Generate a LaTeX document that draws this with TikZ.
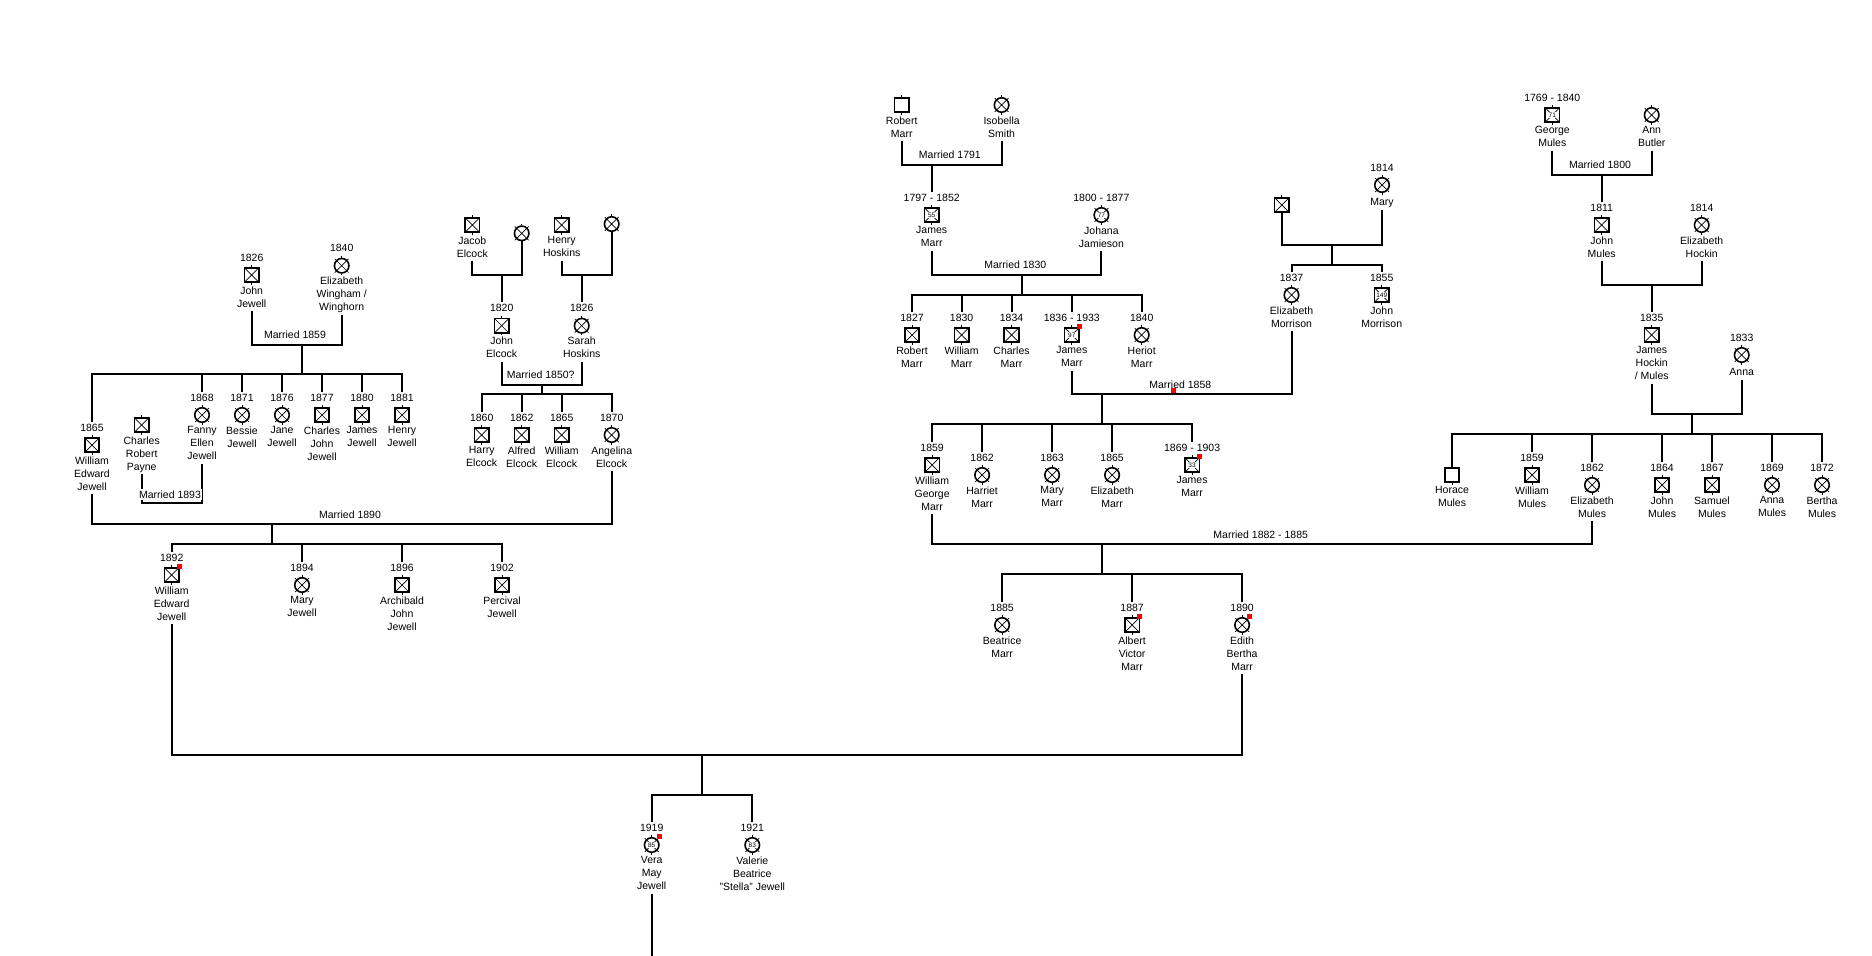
\documentclass[tikz,border=0pt]{standalone}
\usepackage{fontspec}
\setmainfont{Liberation Sans}
\usetikzlibrary{calc}
\begin{document}
\begin{tikzpicture}[x=1pt,y=-1pt,
  every node/.style={inner sep=0pt},
  sym/.style={draw, line width=1.6pt, minimum size=14.5pt, inner sep=0pt, fill=white},
  bx/.style={sym, rectangle},
  bp/.style={sym, rectangle},
  cx/.style={sym, circle},
  yr/.style={font=\fontsize{10.5}{13}\selectfont, anchor=base, yshift=13.95pt, outer ysep=2pt},
  nm/.style={font=\fontsize{10.5}{13}\selectfont, align=center, anchor=north, yshift=-11.35pt,
     execute at begin node=\strut, execute at end node=\strut},
  ml/.style={font=\fontsize{10.5}{13}\selectfont, fill=white, inner xsep=1pt, inner ysep=1.5pt},
  agenum/.style={font=\fontsize{6.5}{7}\selectfont, fill=white, inner sep=0.6pt},
  rdot/.style={fill=red, minimum size=4.5pt, inner sep=0pt},
  conn/.style={line width=2pt},
  xl/.style={line width=0.7pt},
  tk/.style={line width=1pt}]
\useasboundingbox (0,0) rectangle (1872,956);
\def\kbx{bx}\def\kcx{cx}
\newcommand\symdeco[2]{%
  \def\tmpk{#2}%
  \ifx\tmpk\kbx
    \draw[xl] ([shift={(-7.25,-7.25)}]#1s.center) -- ([shift={(7.25,7.25)}]#1s.center)
              ([shift={(-7.25,7.25)}]#1s.center) -- ([shift={(7.25,-7.25)}]#1s.center);
  \fi
  \ifx\tmpk\kcx
    \draw[xl] ([shift={(-6.9,-6.9)}]#1s.center) -- ([shift={(6.9,6.9)}]#1s.center)
              ([shift={(-6.9,6.9)}]#1s.center) -- ([shift={(6.9,-6.9)}]#1s.center);
  \fi
  \draw[tk] (#1s.north) -- ++(0,-1.5);
  \draw[tk] (#1s.south) -- ++(0,1.5);}
\newcommand\psn[6]{%
  \node[#4] (#1s) at (#2,#3) {};
  \symdeco{#1}{#4}
  \node[yr] (#1y) at (#2,#3) {#5};
  \node[nm] (#1) at (#2,#3) {#6};}
\newcommand\psnn[5]{%
  \node[#4] (#1s) at (#2,#3) {};
  \symdeco{#1}{#4}
  \node[nm] (#1) at (#2,#3) {#5};}
\newcommand\symonly[4]{\node[#4] (#1s) at (#2,#3) {};\symdeco{#1}{#4}}
\newcommand\agen[2]{\node[agenum] (#1n) at (#1s.center) {#2};}
\newcommand\rdt[1]{\node[rdot] (#1r) at ([shift={(7.6,-8.7)}]#1s.center) {};}
\newcommand\kid[2]{\draw[conn] (#1y.north) -- (#1y.north |- #2);}

% ---------- Jewell ----------
\psn{jj}{251.7}{275}{bx}{1826}{John\\Jewell}
\psn{ewi}{341.7}{265.7}{cx}{1840}{Elizabeth\\Wingham /\\Winghorn}
\psn{wej}{92}{445}{bx}{1865}{William\\Edward\\Jewell}
\psnn{crp}{141.7}{425}{bx}{Charles\\Robert\\Payne}
\psn{fej}{202}{415}{cx}{1868}{Fanny\\Ellen\\Jewell}
\psn{bj}{242}{415}{cx}{1871}{Bessie\\Jewell}
\psn{jnj}{282}{415}{cx}{1876}{Jane\\Jewell}
\psn{cjj}{322}{415}{bx}{1877}{Charles\\John\\Jewell}
\psn{jmj}{362}{415}{bx}{1880}{James\\Jewell}
\psn{hj}{402}{415}{bx}{1881}{Henry\\Jewell}

% ---------- Elcock / Hoskins ----------
\psnn{jae}{472.3}{225}{bx}{Jacob\\Elcock}
\symonly{ecu}{521.7}{233.3}{cx}
\psnn{hh}{561.7}{225}{bx}{Henry\\Hoskins}
\symonly{hcu}{611.7}{224}{cx}
\psn{je}{501.7}{325.7}{bx}{1820}{John\\Elcock}
\psn{sh}{581.7}{325.7}{cx}{1826}{Sarah\\Hoskins}
\psn{he}{481.7}{435}{bx}{1860}{Harry\\Elcock}
\psn{ae}{521.7}{435}{bx}{1862}{Alfred\\Elcock}
\psn{we}{561.7}{435}{bx}{1865}{William\\Elcock}
\psn{ane}{611.7}{435}{cx}{1870}{Angelina\\Elcock}

\psn{wej2}{171.7}{575}{bx}{1892}{William\\Edward\\Jewell}
\psn{mj}{302}{585}{cx}{1894}{Mary\\Jewell}
\psn{ajj}{402}{585}{bx}{1896}{Archibald\\John\\Jewell}
\psn{pj}{502}{585}{bx}{1902}{Percival\\Jewell}

\psn{vmj}{651.7}{845}{cx}{1919}{Vera\\May\\Jewell}
\psn{vbj}{752.3}{845}{cx}{1921}{Valerie\\Beatrice\\"Stella" Jewell}

% ---------- Marr ----------
\psnn{rm}{901.7}{105}{bp}{Robert\\Marr}
\psnn{is}{1001.6}{105}{cx}{Isobella\\Smith}
\psn{jm1}{931.7}{215}{bx}{1797 - 1852}{James\\Marr}
\psn{jo}{1101.4}{215}{cx}{1800 - 1877}{Johana\\Jamieson}
\psn{rm2}{912}{335}{bx}{1827}{Robert\\Marr}
\psn{wm}{961.6}{335}{bx}{1830}{William\\Marr}
\psn{cm}{1011.5}{335}{bx}{1834}{Charles\\Marr}
\psn{jm2}{1071.8}{335}{bx}{1836 - 1933}{James\\Marr}
\psn{hm}{1141.7}{335}{cx}{1840}{Heriot\\Marr}

\symonly{mb}{1281.9}{205}{bx}
\psn{mary}{1382}{185}{cx}{1814}{Mary}
\psn{em}{1291.5}{295}{cx}{1837}{Elizabeth\\Morrison}
\psn{jmo}{1381.7}{295}{bx}{1855}{John\\Morrison}

\psn{wgm}{932.1}{465}{bx}{1859}{William\\George\\Marr}
\psn{hrm}{982.1}{475}{cx}{1862}{Harriet\\Marr}
\psn{mym}{1052.1}{475}{cx}{1863}{Mary\\Marr}
\psn{ezm}{1112.1}{475}{cx}{1865}{Elizabeth\\Marr}
\psn{jm3}{1192.1}{465}{bx}{1869 - 1903}{James\\Marr}
\psn{bem}{1002.1}{625}{cx}{1885}{Beatrice\\Marr}
\psn{avm}{1132.1}{625}{bx}{1887}{Albert\\Victor\\Marr}
\psn{ebm}{1242.1}{625}{cx}{1890}{Edith\\Bertha\\Marr}

% ---------- Mules ----------
\psn{gm}{1552.3}{115}{bx}{1769 - 1840}{George\\Mules}
\psnn{ab}{1651.7}{115}{cx}{Ann\\Butler}
\psn{jmu}{1601.7}{225}{bx}{1811}{John\\Mules}
\psn{eh}{1701.7}{225}{cx}{1814}{Elizabeth\\Hockin}
\psn{jhm}{1651.7}{335}{bx}{1835}{James\\Hockin\\/ Mules}
\psn{an}{1741.7}{355}{cx}{1833}{Anna}
\psnn{hom}{1452}{475}{bp}{Horace\\Mules}
\psn{wmu}{1532}{475}{bx}{1859}{William\\Mules}
\psn{elm}{1592}{485}{cx}{1862}{Elizabeth\\Mules}
\psn{jnm}{1662}{485}{bx}{1864}{John\\Mules}
\psn{sm}{1712}{485}{bx}{1867}{Samuel\\Mules}
\psn{anm}{1772}{485}{cx}{1869}{Anna\\Mules}
\psn{bm}{1822}{485}{cx}{1872}{Bertha\\Mules}

% ages and marks
\agen{jm1}{55}\agen{jo}{77}\agen{jm2}{97}\agen{jmo}{149}
\agen{jm3}{33}\agen{gm}{71}\agen{vmj}{85}\agen{vbj}{83}
\rdt{jm2}\rdt{jm3}\rdt{avm}\rdt{ebm}\rdt{wej2}\rdt{vmj}

% ---------- connectors ----------
% Jewell 1859
\coordinate (m1859) at (301.7,345); \coordinate (s1859) at (301.7,374.3);
\draw[conn] (jj.south) |- (m1859) -| (ewi.south);
\draw[conn] (m1859) -- (s1859);
\draw[conn] (wejy.north) |- (s1859) -| (hjy.north);
\kid{fej}{s1859}\kid{bj}{s1859}\kid{jnj}{s1859}\kid{cjj}{s1859}\kid{jmj}{s1859}
% 1893
\coordinate (m1893) at (170,503.3);
\draw[conn] (crp.south) |- (m1893) -| (fej.south);
% Elcock, Hoskins
\coordinate (mJE) at (501.7,275);
\draw[conn] (jae.south) |- (mJE) -| (ecus.south);
\draw[conn] (mJE) -- (mJE |- jey.north);
\coordinate (mHH) at (581.7,275);
\draw[conn] (hh.south) |- (mHH) -| (hcus.south);
\draw[conn] (mHH) -- (mHH |- shy.north);
% 1850
\coordinate (m1850) at (541.7,385); \coordinate (s1850) at (541.7,394.3);
\draw[conn] (je.south) |- (m1850) -| (sh.south);
\draw[conn] (m1850) -- (s1850);
\draw[conn] (hey.north) |- (s1850) -| (aney.north);
\kid{ae}{s1850}\kid{we}{s1850}
% 1890
\coordinate (m1890) at (272,524.3); \coordinate (s1890) at (272,544.3);
\draw[conn] (wej.south) |- (m1890) -| (ane.south);
\draw[conn] (m1890) -- (s1890);
\draw[conn] (wej2y.north) |- (s1890) -| (pjy.north);
\kid{mj}{s1890}\kid{ajj}{s1890}
% Vera / Valerie
\coordinate (mVJ) at (701.7,755); \coordinate (sVJ) at (701.7,795);
\draw[conn] (wej2.south) |- (mVJ) -| (ebm.south);
\draw[conn] (mVJ) -- (sVJ);
\draw[conn] (vmjy.north) |- (sVJ) -| (vbjy.north);
\coordinate (vend) at (651.7,956);
\draw[conn] (vmj.south) -- (vend);
% Marr 1791
\coordinate (m1791) at (931.7,165);
\draw[conn] (rm.south) |- (m1791) -| (is.south);
\draw[conn] (m1791) -- (m1791 |- jm1y.north);
% 1830
\coordinate (m1830) at (1021.9,275); \coordinate (s1830) at (1021.9,295);
\draw[conn] (jm1.south) |- (m1830) -| (jo.south);
\draw[conn] (m1830) -- (s1830);
\draw[conn] (rm2y.north) |- (s1830) -| (hmy.north);
\kid{wm}{s1830}\kid{cm}{s1830}\kid{jm2}{s1830}
% Morrison
\coordinate (mMo) at (1331.8,245); \coordinate (sMo) at (1331.8,265);
\draw[conn] (mbs.south) |- (mMo) -| (mary.south);
\draw[conn] (mMo) -- (sMo);
\draw[conn] (emy.north) |- (sMo) -| (jmoy.north);
% 1858
\coordinate (m1858) at (1102.1,394.3); \coordinate (s1858) at (1102.1,424.3);
\draw[conn] (jm2.south) |- (m1858) -| (em.south);
\draw[conn] (m1858) -- (s1858);
\draw[conn] (wgmy.north) |- (s1858) -| (jm3y.north);
\kid{hrm}{s1858}\kid{mym}{s1858}\kid{ezm}{s1858}
% 1882
\coordinate (m1882) at (1102.1,544.3); \coordinate (s1882) at (1102.1,574.3);
\draw[conn] (wgm.south) |- (m1882) -| (elm.south);
\draw[conn] (m1882) -- (s1882);
\draw[conn] (bemy.north) |- (s1882) -| (ebmy.north);
\kid{avm}{s1882}
% Mules 1800
\coordinate (m1800) at (1601.7,175);
\draw[conn] (gm.south) |- (m1800) -| (ab.south);
\draw[conn] (m1800) -- (m1800 |- jmuy.north);
% Mules-Hockin
\coordinate (mHo) at (1651.7,285);
\draw[conn] (jmu.south) |- (mHo) -| (eh.south);
\draw[conn] (mHo) -- (mHo |- jhmy.north);
% James + Anna
\coordinate (mJA) at (1692,414.3); \coordinate (sJA) at (1692,434.3);
\draw[conn] (jhm.south) |- (mJA) -| (an.south);
\draw[conn] (mJA) -- (sJA);
\draw[conn] (homs.north) |- (sJA) -| (bmy.north);
\kid{wmu}{sJA}\kid{elm}{sJA}\kid{jnm}{sJA}\kid{sm}{sJA}\kid{anm}{sJA}

% marriage labels
\node[ml] (t1859) at (295,334.7) {Married 1859};
\node[ml] (t1893) at (170,494.7) {Married 1893};
\node[ml] (t1850) at (540.7,374.3) {Married 1850?};
\node[ml] (t1890) at (350,514.3) {Married 1890};
\node[ml] (t1791) at (949.9,154.7) {Married 1791};
\node[ml] (t1830) at (1015.3,264.7) {Married 1830};
\node[ml] (t1858) at (1180.3,384.3) {Married 1858};
\node[rdot] (rd1858) at (1173.4,390.3) {};
\node[ml] (t1882) at (1260.7,534.3) {Married 1882 - 1885};
\node[ml] (t1800) at (1600,164.7) {Married 1800};
\end{tikzpicture}
\end{document}
